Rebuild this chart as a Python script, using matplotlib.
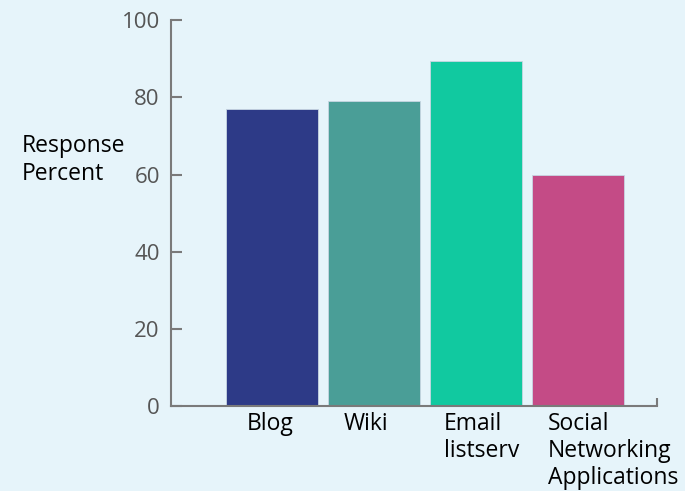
import matplotlib.pyplot as plt
import numpy as np

# Survey data
categories = ["Blog", "Wiki", "Email\nlistserv", "Social\nNetworking\nApplications"]
response_pct = [77, 79, 89.3, 60]
bar_colors = ["#2d3a87", "#4a9e97", "#11c9a0", "#c44b86"]
y_ticks = [0, 20, 40, 60, 80, 100]

bg = "#e6f4fa"
axis_gray = "#7a7a7a"

fig = plt.figure(figsize=(6.85, 4.91), dpi=100, facecolor=bg)
ax = fig.add_axes([0.2496, 0.173, 0.7094, 0.786], facecolor=bg)

x = np.arange(len(categories))
ax.bar(x, response_pct, width=0.9, color=bar_colors,
       edgecolor="#c8d6e2", linewidth=0.6)

ax.set_xlim(-0.99, 3.77)
ax.set_ylim(0, 100)

for s in ["top", "right"]:
    ax.spines[s].set_visible(False)
for s in ["left", "bottom"]:
    ax.spines[s].set_color(axis_gray)
    ax.spines[s].set_linewidth(1.5)

ax.set_yticks(y_ticks)
ax.tick_params(axis="y", direction="in", length=8, width=1.5, color=axis_gray,
               labelsize=16, labelcolor="#555555", pad=8)
for lbl in ax.get_yticklabels():
    lbl.set_fontfamily(["Liberation Sans Narrow", "Open Sans"])

# no category ticks, only the little upturn at the right end of the axis
ax.set_xticks([])
ax.set_xticks([3.77], minor=True)
ax.tick_params(axis="x", which="minor", direction="in", length=6, width=1.5,
               color=axis_gray, labelbottom=False)

# category labels, mostly left-aligned under their bar
label_x = [-0.25, -0.30, -0.32, -0.30]
for xi, off, lab in zip(x, label_x, categories):
    ax.text(xi + off, -1.6, lab, ha="left", va="top", fontsize=16.5,
            family="Open Sans", linespacing=1.17,
            transform=ax.transData, clip_on=False)

fig.text(0.032, 0.674, "Response\nPercent", ha="left", va="center",
         fontsize=16.5, family="Open Sans", linespacing=1.2)

plt.savefig("out.png", dpi=100, facecolor=bg)
